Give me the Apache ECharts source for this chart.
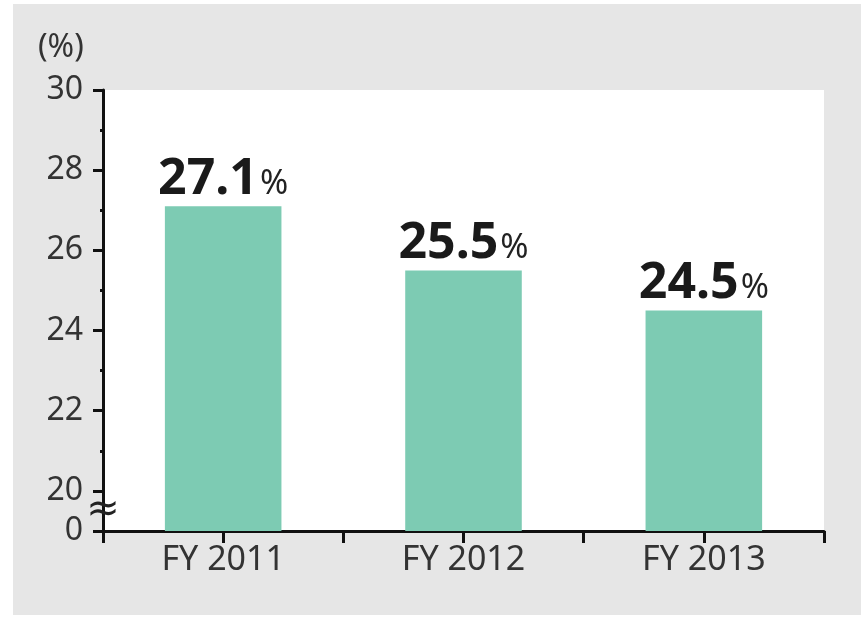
<!DOCTYPE html>
<html>
<head>
<meta charset="utf-8">
<script src="https://cdn.jsdelivr.net/npm/echarts@6/dist/echarts.min.js"></script>
<style>
  html, body { margin: 0; padding: 0; background: #ffffff; }
  #panel { position: absolute; left: 13px; top: 4px; right: 0; bottom: 4px; background: #e6e6e6; }
  #chart { position: absolute; left: 0; top: 0; width: 861px; height: 619px; }
</style>
</head>
<body>
<div id="panel"></div>
<div id="chart"></div>
<script>
// Fiscal years and ratio (%) for each year
const categories = ['FY 2011', 'FY 2012', 'FY 2013'];
const ratios = [27.1, 25.5, 24.5];

// Y scale: 20–30 shown, with a broken segment down to 0 at the bottom
const axisMin = 19;        // stands for the "0" at the foot of the broken axis
const axisMax = 30;
const majorTicks = [19, 20, 22, 24, 26, 28, 30];
const minorTicks = [21, 23, 25, 27, 29];
const tickLabels = { 19: '0', 20: '20', 22: '22', 24: '24', 26: '26', 28: '28', 30: '30' };

const FONT = '"Noto Sans", "Open Sans", sans-serif';
const chart = echarts.init(document.getElementById('chart'), null, { renderer: 'canvas' });

const yCommon = { type: 'value', min: axisMin, max: axisMax, position: 'left', splitLine: { show: false } };

chart.setOption({
  backgroundColor: 'transparent',
  animation: false,
  title: {
    text: '(%)', left: 33, top: 27,
    textStyle: { fontFamily: FONT, fontSize: 32, fontWeight: 'normal', color: '#333' }
  },
  grid: { left: 103, right: 37, top: 90, bottom: 88, show: true, backgroundColor: '#ffffff', borderWidth: 0 },
  xAxis: [
    {
      type: 'category', data: categories, position: 'bottom',
      axisLine: { lineStyle: { color: '#111', width: 3 } },
      axisTick: { show: true, length: 12, lineStyle: { color: '#111', width: 3 } },
      axisLabel: { fontFamily: FONT, fontSize: 34, color: '#333', margin: 12 }
    },
    {
      type: 'category', data: categories, position: 'bottom',
      axisLine: { show: false },
      axisTick: { show: true, alignWithLabel: true, length: 12, lineStyle: { color: '#111', width: 3 } },
      axisLabel: { show: false }
    }
  ],
  yAxis: [
    Object.assign({}, yCommon, {
      axisLine: { show: true, lineStyle: { color: '#111', width: 3 } },
      axisTick: { show: true, length: 10, customValues: majorTicks, lineStyle: { color: '#111', width: 3 } },
      axisLabel: {
        customValues: majorTicks, margin: 20,
        fontFamily: FONT, fontSize: 32, color: '#333',
        formatter: v => tickLabels[v] ?? ''
      }
    }),
    Object.assign({}, yCommon, {
      axisLine: { show: false },
      axisTick: { show: true, length: 3, customValues: minorTicks, lineStyle: { color: '#111', width: 3 } },
      axisLabel: { show: false }
    })
  ],
  series: [{
    type: 'bar',
    data: ratios,
    barWidth: '48.5%',
    itemStyle: { color: '#7dcbb3' },
    label: {
      show: true, position: 'top', distance: 2,
      formatter: p => '{v|' + p.value.toFixed(1) + '}{u|%}',
      rich: {
        v: { fontFamily: FONT, fontSize: 50, fontWeight: 'bold', color: '#1a1a1a' },
        u: { fontFamily: FONT, fontSize: 34, color: '#222', padding: [10, 0, 0, 2] }
      }
    }
  }]
});

// Break mark across the y axis between 0 and 20
const gridRect = chart.getModel().getComponent('grid', 0).coordinateSystem.getRect();
const breakY = chart.convertToPixel({ yAxisIndex: 0 }, (axisMin + 20) / 2);
chart.setOption({
  graphic: [{
    type: 'text', x: gridRect.x, y: breakY, z: 100,
    style: { text: '≈', fontFamily: '"DejaVu Sans", sans-serif', fontSize: 40, fill: '#222', align: 'center', verticalAlign: 'middle' }
  }]
});
</script>
</body>
</html>
